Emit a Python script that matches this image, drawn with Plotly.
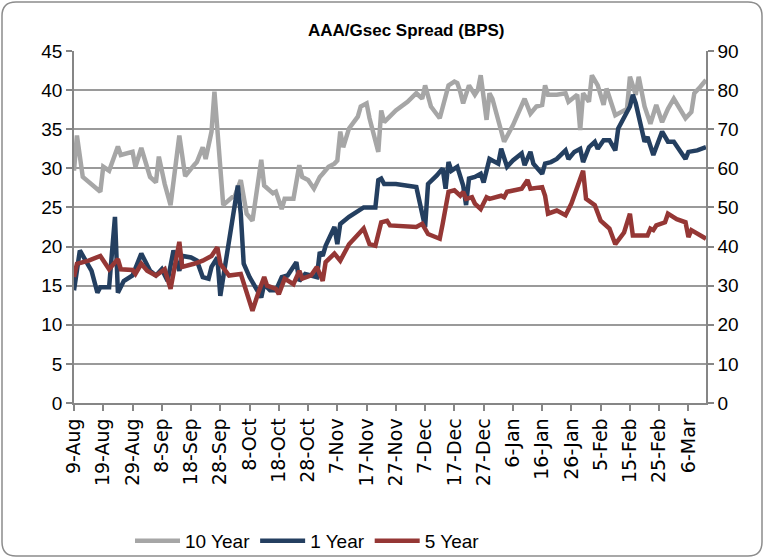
import plotly.graph_objects as go

# ---------------- data ----------------
dates_10y = ["2011-08-09","2011-08-10","2011-08-12","2011-08-18","2011-08-19","2011-08-21","2011-08-24","2011-08-25",
             "2011-08-29","2011-08-30","2011-09-01","2011-09-04","2011-09-06","2011-09-07","2011-09-09","2011-09-11",
             "2011-09-14","2011-09-16","2011-09-19","2011-09-20","2011-09-22","2011-09-23","2011-09-25","2011-09-26",
             "2011-09-29","2011-09-30","2011-10-02","2011-10-03","2011-10-05","2011-10-07","2011-10-09","2011-10-12",
             "2011-10-13","2011-10-16","2011-10-17","2011-10-19","2011-10-20","2011-10-23","2011-10-25","2011-10-26",
             "2011-10-28","2011-10-30","2011-11-01","2011-11-02","2011-11-04","2011-11-06","2011-11-07","2011-11-08",
             "2011-11-09","2011-11-11","2011-11-14","2011-11-15","2011-11-17","2011-11-18","2011-11-21","2011-11-22",
             "2011-11-23","2011-11-27","2011-12-01","2011-12-04","2011-12-06","2011-12-07","2011-12-09","2011-12-12",
             "2011-12-14","2011-12-15","2011-12-17","2011-12-18","2011-12-19","2011-12-20","2011-12-22","2011-12-24",
             "2011-12-25","2011-12-26","2011-12-28","2011-12-29","2011-12-30","2012-01-01","2012-01-03","2012-01-06",
             "2012-01-10","2012-01-12","2012-01-14","2012-01-16","2012-01-17","2012-01-18","2012-01-21","2012-01-24",
             "2012-01-25","2012-01-28","2012-01-29","2012-01-30","2012-02-01","2012-02-02","2012-02-04","2012-02-06",
             "2012-02-07","2012-02-10","2012-02-12","2012-02-14","2012-02-15","2012-02-17","2012-02-18","2012-02-20",
             "2012-02-22","2012-02-24","2012-02-26","2012-02-28","2012-03-01","2012-03-05","2012-03-07","2012-03-08",
             "2012-03-10","2012-03-12"]
values_10y = [29.7,34.2,28.9,27.0,30.2,29.7,32.8,31.7,
              32.1,30.2,32.6,28.9,28.2,31.5,28.0,25.3,
              34.2,29.0,30.4,30.8,32.7,31.2,34.7,39.8,
              25.3,25.7,26.3,26.5,28.5,24.2,23.3,31.1,
              27.8,26.8,27.0,24.8,26.1,26.1,30.4,28.9,
              28.5,27.4,28.9,29.3,30.2,30.6,31.0,34.7,
              32.7,35.1,36.6,37.9,38.3,36.4,32.1,37.4,
              35.9,37.4,38.5,39.6,38.9,40.6,37.9,36.4,
              39.1,40.6,41.1,40.9,39.8,38.3,40.6,39.4,
              40.0,41.9,36.2,39.6,38.9,36.4,33.4,35.5,
              38.9,37.0,37.9,38.1,40.6,39.4,39.4,39.6,
              38.5,39.4,34.9,39.6,38.5,41.9,40.6,38.1,
              40.2,36.8,37.2,37.6,41.7,39.4,41.7,37.9,
              35.7,38.1,35.9,37.6,38.9,36.4,37.2,39.6,
              40.4,41.3]

dates_1y = ["2011-08-09","2011-08-11","2011-08-15","2011-08-17","2011-08-18","2011-08-21","2011-08-23","2011-08-24",
            "2011-08-26","2011-08-29","2011-09-01","2011-09-04","2011-09-06","2011-09-08","2011-09-10","2011-09-12",
            "2011-09-14","2011-09-15","2011-09-18","2011-09-20","2011-09-22","2011-09-24","2011-09-25","2011-09-27",
            "2011-09-28","2011-10-04","2011-10-05","2011-10-06","2011-10-08","2011-10-10","2011-10-12","2011-10-13",
            "2011-10-15","2011-10-17","2011-10-19","2011-10-21","2011-10-24","2011-10-25","2011-10-27","2011-10-29",
            "2011-10-31","2011-11-01","2011-11-02","2011-11-03","2011-11-06","2011-11-07","2011-11-08","2011-11-11",
            "2011-11-16","2011-11-20","2011-11-21","2011-11-22","2011-11-23","2011-11-27","2011-12-01","2011-12-04",
            "2011-12-07","2011-12-08","2011-12-11","2011-12-13","2011-12-14","2011-12-15","2011-12-16","2011-12-18",
            "2011-12-20","2011-12-21","2011-12-22","2011-12-24","2011-12-26","2011-12-27","2011-12-29","2012-01-01",
            "2012-01-02","2012-01-04","2012-01-06","2012-01-09","2012-01-10","2012-01-12","2012-01-13","2012-01-14",
            "2012-01-16","2012-01-17","2012-01-19","2012-01-21","2012-01-24","2012-01-25","2012-01-27","2012-01-29",
            "2012-01-30","2012-02-01","2012-02-03","2012-02-04","2012-02-06","2012-02-08","2012-02-10","2012-02-11",
            "2012-02-13","2012-02-14","2012-02-15","2012-02-16","2012-02-17","2012-02-20","2012-02-21","2012-02-23",
            "2012-02-26","2012-02-28","2012-03-01","2012-03-05","2012-03-06","2012-03-09","2012-03-12"]
values_1y = [14.4,19.5,16.9,14.1,14.8,14.8,23.8,14.1,
             15.6,16.3,19.1,16.9,16.3,17.1,15.6,19.5,
             16.9,18.8,18.6,18.2,16.1,15.9,17.4,18.6,
             13.7,27.8,24.2,17.8,16.1,14.8,13.5,15.2,
             14.4,14.4,16.1,16.3,18.0,15.6,16.5,16.3,
             16.1,19.3,18.8,20.1,22.5,20.3,22.9,23.8,
             25.0,25.0,28.5,28.7,28.0,28.0,27.8,27.6,
             22.5,28.0,29.1,30.0,27.4,30.8,29.7,30.2,
             27.8,25.3,28.7,28.9,29.3,28.2,31.2,30.6,
             32.5,30.2,31.0,31.9,30.4,32.1,30.6,30.2,
             29.3,30.6,30.8,31.2,32.3,31.2,32.1,32.5,
             30.8,32.7,33.4,32.5,33.6,33.6,32.3,35.1,
             36.6,37.4,37.9,39.4,38.3,33.4,34.0,31.7,
             34.7,33.4,33.4,31.2,32.1,32.3,32.7]

dates_5y = ["2011-08-09","2011-08-10","2011-08-14","2011-08-18","2011-08-21","2011-08-24","2011-08-25","2011-08-29",
            "2011-08-30","2011-09-01","2011-09-03","2011-09-06","2011-09-09","2011-09-11","2011-09-14","2011-09-15",
            "2011-09-19","2011-09-22","2011-09-25","2011-09-27","2011-09-28","2011-10-01","2011-10-05","2011-10-07",
            "2011-10-09","2011-10-11","2011-10-13","2011-10-14","2011-10-17","2011-10-18","2011-10-20","2011-10-23",
            "2011-10-25","2011-10-26","2011-10-29","2011-10-31","2011-11-02","2011-11-03","2011-11-06","2011-11-08",
            "2011-11-11","2011-11-16","2011-11-18","2011-11-20","2011-11-22","2011-11-24","2011-11-25","2011-12-04",
            "2011-12-06","2011-12-08","2011-12-12","2011-12-13","2011-12-15","2011-12-17","2011-12-19","2011-12-20",
            "2011-12-21","2011-12-23","2011-12-24","2011-12-26","2011-12-28","2011-12-29","2012-01-02","2012-01-03",
            "2012-01-04","2012-01-09","2012-01-11","2012-01-12","2012-01-16","2012-01-17","2012-01-18","2012-01-21",
            "2012-01-24","2012-01-26","2012-01-28","2012-01-30","2012-01-31","2012-02-02","2012-02-03","2012-02-05",
            "2012-02-07","2012-02-08","2012-02-10","2012-02-13","2012-02-15","2012-02-16","2012-02-21","2012-02-22",
            "2012-02-23","2012-02-24","2012-02-27","2012-02-28","2012-03-02","2012-03-05","2012-03-06","2012-03-07",
            "2012-03-12"]
values_5y = [16.1,17.8,18.2,18.8,17.1,18.4,17.1,17.0,
             16.5,17.8,16.9,16.3,17.1,14.6,20.6,17.4,
             17.8,18.2,18.8,19.9,17.8,16.3,16.5,13.9,
             11.8,14.1,16.1,15.0,14.6,13.9,15.9,15.2,
             16.9,15.9,16.3,17.4,15.6,18.0,19.1,18.2,
             20.3,22.3,20.3,20.1,23.1,23.3,22.7,22.5,
             22.9,21.6,21.0,22.9,27.0,27.2,26.5,27.0,
             26.1,26.3,25.5,24.8,26.3,26.1,26.5,26.3,
             27.0,27.4,28.5,27.4,27.6,26.5,24.2,24.6,
             24.0,25.5,27.8,29.7,26.1,25.5,25.3,23.3,
             22.7,22.3,20.3,21.8,24.2,21.4,21.4,22.3,
             22.1,22.7,23.1,24.2,23.5,23.1,21.2,22.1,
             21.0]

series_names = ["10 Year", "1 Year", "5 Year"]
title_text = "AAA/Gsec Spread (BPS)"
x_start, x_end = "2011-08-09", "2012-03-12"

# ---------------- styling ----------------
W, H = 765, 559
PL, PR, PT, PB = 74, 706, 51, 403   # plot area in pixels

def px_x(p):
    return (p - PL) / (PR - PL)

def px_y(p):
    return (PB - p) / (PB - PT)

colors = ["#A6A6A6", "#243F60", "#953735"]
grid = "#9A9A9A"
axis_font = dict(family="Liberation Sans, Arial", size=19, color="#000000")

fig = go.Figure()
for name, xs, ys, c in [(series_names[0], dates_10y, values_10y, colors[0]),
                        (series_names[1], dates_1y, values_1y, colors[1]),
                        (series_names[2], dates_5y, values_5y, colors[2])]:
    fig.add_trace(go.Scatter(x=xs, y=ys, name=name, mode="lines",
                             line=dict(color=c, width=4.5, shape="linear")))
# empty trace so the secondary axis is drawn
fig.add_trace(go.Scatter(x=[x_start], y=[None], yaxis="y2", showlegend=False,
                         hoverinfo="skip", mode="lines"))

# rounded chart border
x0, y0, x1, y1, r = 2, 2, 762, 556, 14
path = (f"M {px_x(x0 + r)},{px_y(y0)} L {px_x(x1 - r)},{px_y(y0)} "
        f"Q {px_x(x1)},{px_y(y0)} {px_x(x1)},{px_y(y0 + r)} "
        f"L {px_x(x1)},{px_y(y1 - r)} Q {px_x(x1)},{px_y(y1)} {px_x(x1 - r)},{px_y(y1)} "
        f"L {px_x(x0 + r)},{px_y(y1)} Q {px_x(x0)},{px_y(y1)} {px_x(x0)},{px_y(y1 - r)} "
        f"L {px_x(x0)},{px_y(y0 + r)} Q {px_x(x0)},{px_y(y0)} {px_x(x0 + r)},{px_y(y0)} Z")

fig.update_layout(
    width=W, height=H,
    margin=dict(l=PL, r=W - PR, t=PT, b=H - PB, pad=0, autoexpand=False),
    paper_bgcolor="white", plot_bgcolor="white",
    showlegend=True,
    legend=dict(orientation="h", x=px_x(130), xanchor="left", y=px_y(522), yanchor="top",
                font=dict(family="Liberation Sans, Arial", size=19, color="#000"),
                itemwidth=45, tracegroupgap=0, bgcolor="rgba(0,0,0,0)"),
    xaxis=dict(type="date", range=[x_start, x_end], tick0=x_start, dtick=10 * 86400000,
               tickformat="%-d-%b", tickangle=-90, ticks="outside", ticklen=6, tickcolor="#868686",
               tickwidth=1.5, showline=True, linecolor="#868686", linewidth=1.5, showgrid=False,
               zeroline=False, automargin=False,
               tickfont=dict(family="DejaVu Sans, Verdana", size=19, color="#000")),
    yaxis=dict(range=[0, 45], dtick=5, ticks="outside", ticklen=6, tickcolor="#868686", tickwidth=1.5,
               showline=True, linecolor="#868686", linewidth=1.5, showgrid=True, gridcolor=grid,
               gridwidth=1.5, zeroline=False, tickfont=axis_font, automargin=False),
    yaxis2=dict(range=[0, 90], dtick=10, overlaying="y", side="right", ticks="outside", ticklen=6,
                tickcolor="#868686", tickwidth=1.5, showline=True, linecolor="#868686", linewidth=1.5,
                showgrid=False, zeroline=False, tickfont=axis_font, automargin=False),
    shapes=[dict(type="path", path=path, xref="paper", yref="paper",
                 line=dict(color="#8C8C8C", width=1.5), fillcolor="rgba(0,0,0,0)", layer="above")],
    annotations=[dict(text="<b>" + title_text + "</b>", x=px_x(406), y=px_y(31), xref="paper", yref="paper",
                      showarrow=False, xanchor="center", yanchor="middle",
                      font=dict(family="Liberation Sans, Arial", size=17, color="#000"))],
)

fig.write_html("out.html", config={"displayModeBar": False},
               post_script="document.body.style.margin='0px';")
